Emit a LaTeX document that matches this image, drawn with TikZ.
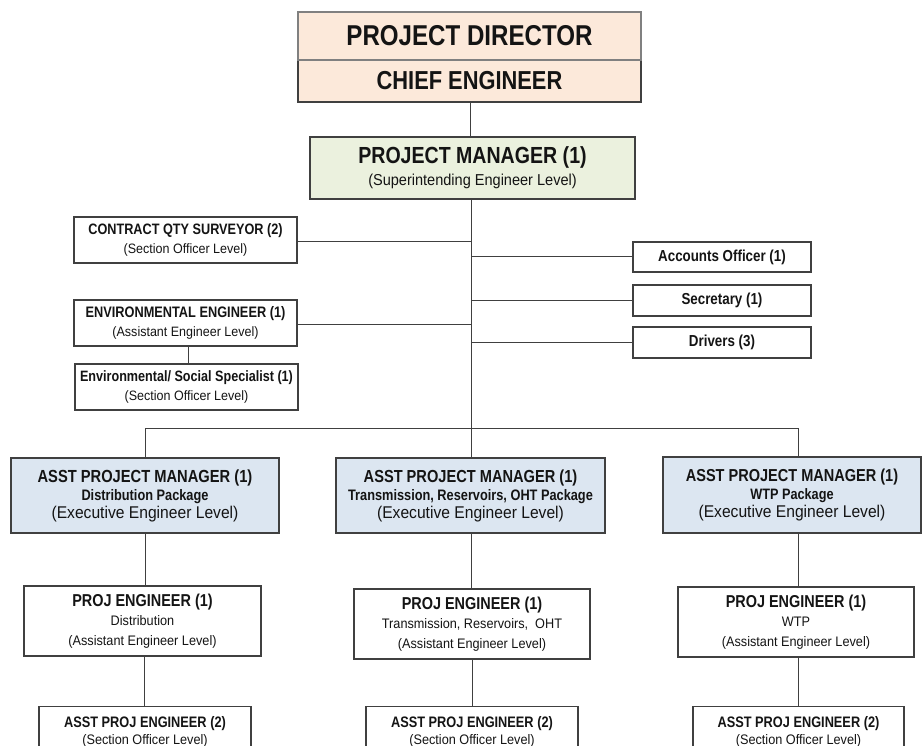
\documentclass[tikz,border=0pt]{standalone}
\usepackage{fontspec}
\setmainfont{Liberation Sans}[UprightFeatures={FakeStretch=0.92}, BoldFeatures={FakeStretch=0.84}]
\begin{document}
\begin{tikzpicture}[x=1pt,y=-1pt,
  conn/.style={draw=black!75, line width=1pt},
  box/.style={draw=black!75, line width=1.1pt, fill=white, align=center, inner sep=0pt, text=black!92},
  pdbox/.style={box, fill=peach, draw=black!50, line width=1.4pt},
  cebox/.style={box, fill=peach},
  pmbox/.style={box, fill=sage},
  apmbox/.style={box, fill=paleblue},
]
\definecolor{peach}{HTML}{FCE9DA}
\definecolor{sage}{HTML}{EBF1DE}
\definecolor{paleblue}{HTML}{DCE6F1}
\useasboundingbox (0,0) rectangle (922,746);
\clip (0,0) rectangle (922,746);

% top boxes
\node[cebox, minimum width=343pt, minimum height=42pt, font=\fontsize{26}{28}\selectfont\bfseries] (ce) at (469.5,81) {CHIEF ENGINEER};
\node[pdbox, minimum width=343pt, minimum height=48pt, font=\fontsize{28.7}{30}\selectfont\bfseries] (pd) at (469.5,36) {PROJECT DIRECTOR};
\node[pmbox, minimum width=325pt, minimum height=62pt, font=\fontsize{15.8}{22}\selectfont] (pm) at (472.5,168)
  {{\fontsize{23.3}{22}\selectfont\bfseries PROJECT MANAGER (1)}\\(Superintending Engineer Level)};

% left staff
\node[box, minimum width=223pt, minimum height=46pt, font=\fontsize{13.6}{19}\selectfont] (cqs) at (185.5,240)
  {{\fontsize{15.1}{19}\selectfont\bfseries CONTRACT QTY SURVEYOR (2)}\\(Section Officer Level)};
\node[box, minimum width=223pt, minimum height=46pt, font=\fontsize{13.6}{19}\selectfont] (ee) at (185.5,323)
  {{\fontsize{15.2}{19}\selectfont\bfseries ENVIRONMENTAL ENGINEER (1)}\\(Assistant Engineer Level)};
\node[box, minimum width=223pt, minimum height=46pt, font=\fontsize{13.6}{19}\selectfont] (ess) at (186.5,387)
  {{\fontsize{15}{19}\selectfont\bfseries Environmental/ Social Specialist (1)}\\(Section Officer Level)};

% right staff
\node[box, minimum width=178pt, minimum height=30pt, font=\fontsize{15.9}{18}\selectfont\bfseries] (ao) at (722,257) {Accounts Officer (1)};
\node[box, minimum width=178pt, minimum height=31pt, font=\fontsize{15.9}{18}\selectfont\bfseries] (sec) at (722,300.5) {Secretary (1)};
\node[box, minimum width=178pt, minimum height=31pt, font=\fontsize{15.9}{18}\selectfont\bfseries] (drv) at (722,342.5) {Drivers (3)};

% asst project managers
\node[apmbox, minimum width=268pt, minimum height=75pt, font=\fontsize{17}{18}\selectfont] (apma) at (145,495.5)
  {{\fontsize{17.5}{18}\selectfont\bfseries ASST PROJECT MANAGER (1)}\\{\fontsize{15.2}{18}\selectfont\bfseries Distribution Package}\\(Executive Engineer Level)};
\node[apmbox, minimum width=269pt, minimum height=75pt, font=\fontsize{17}{18}\selectfont] (apmb) at (470.5,495.5)
  {{\fontsize{17.4}{18}\selectfont\bfseries ASST PROJECT MANAGER (1)}\\{\fontsize{15.2}{18}\selectfont\bfseries Transmission, Reservoirs, OHT Package}\\(Executive Engineer Level)};
\node[apmbox, minimum width=258pt, minimum height=76pt, font=\fontsize{17}{18}\selectfont] (apmc) at (792,495)
  {{\fontsize{17.3}{18}\selectfont\bfseries ASST PROJECT MANAGER (1)}\\{\fontsize{15.1}{18}\selectfont\bfseries WTP Package}\\(Executive Engineer Level)};

% project engineers
\node[box, minimum width=237pt, minimum height=70pt, font=\fontsize{13.8}{19.5}\selectfont] (pea) at (142.5,621)
  {{\fontsize{17.2}{19.5}\selectfont\bfseries PROJ ENGINEER (1)}\\Distribution\\(Assistant Engineer Level)};
\node[box, minimum width=236pt, minimum height=70pt, font=\fontsize{13.8}{19.5}\selectfont] (peb) at (472,624)
  {{\fontsize{17.2}{19.5}\selectfont\bfseries PROJ ENGINEER (1)}\\Transmission, Reservoirs,\ \ OHT\\(Assistant Engineer Level)};
\node[box, minimum width=236pt, minimum height=70pt, font=\fontsize{13.8}{19.5}\selectfont] (pec) at (796,622)
  {{\fontsize{17.2}{19.5}\selectfont\bfseries PROJ ENGINEER (1)}\\WTP\\(Assistant Engineer Level)};

% asst project engineers (cut by the page edge, as in the original)
\node[box, minimum width=212pt, minimum height=60pt, anchor=north, font=\fontsize{13.8}{17}\selectfont] (apea) at (145,706)
  {\vphantom{X}\\[-6pt]{\fontsize{15.2}{17}\selectfont\bfseries ASST PROJ ENGINEER (2)}\\(Section Officer Level)\\ \\};
\node[box, minimum width=212pt, minimum height=60pt, anchor=north, font=\fontsize{13.8}{17}\selectfont] (apeb) at (472,706)
  {\vphantom{X}\\[-6pt]{\fontsize{15.2}{17}\selectfont\bfseries ASST PROJ ENGINEER (2)}\\(Section Officer Level)\\ \\};
\node[box, minimum width=211pt, minimum height=60pt, anchor=north, font=\fontsize{13.8}{17}\selectfont] (apec) at (798.5,706)
  {\vphantom{X}\\[-6pt]{\fontsize{15.2}{17}\selectfont\bfseries ASST PROJ ENGINEER (2)}\\(Section Officer Level)\\ \\};

% coordinates of the trunk
\coordinate (spine) at (471,199);
\coordinate (bus) at (471,428);
\coordinate (busL) at (145,428);
\coordinate (busR) at (798,428);

% connectors
\draw[conn] (ce.south -| spine) ++(-1,0) -- ++(0,35);
\draw[conn] (pm.south -| spine) -- (bus);
\draw[conn] (busL) -- (busR);
\draw[conn] (busL) -- (busL |- apma.north);
\draw[conn] (bus) -- (bus |- apmb.north);
\draw[conn] (busR) -- (busR |- apmc.north);
\draw[conn] (cqs.east) ++(0,2) -- ++(174,0);
\draw[conn] (ee.east) ++(0,2) -- ++(174,0);
\draw[conn] (ao.west) -- (ao.west -| spine);
\draw[conn] (sec.west) -- (sec.west -| spine);
\draw[conn] (drv.west) -- (drv.west -| spine);
\draw[conn] (ee.south) ++(2.5,0) -- ++(0,18);
\draw[conn] (apma.south) -- (apma.south |- pea.north);
\draw[conn] (apmb.south -| bus) -- (bus |- peb.north);
\draw[conn] (apmc.south -| busR) -- (busR |- pec.north);
\draw[conn] (pea.south -| busL) ++(-1,0) -- (apea.north -| 144,0);
\draw[conn] (peb.south) -- (apeb.north);
\draw[conn] (pec.south -| busR) -- (apec.north -| busR);
\end{tikzpicture}
\end{document}
